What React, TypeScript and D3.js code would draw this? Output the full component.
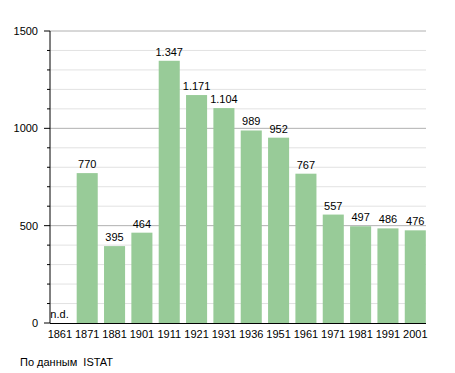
import React from 'react';
import * as d3 from 'd3';

const years = ['1861', '1871', '1881', '1901', '1911', '1921', '1931', '1936', '1951', '1961', '1971', '1981', '1991', '2001'];
const population: (number | null)[] = [null, 770, 395, 464, 1347, 1171, 1104, 989, 952, 767, 557, 497, 486, 476];
const majorTicks = [0, 500, 1000, 1500];
const minorTicks = d3.range(100, 1500, 100).filter(v => v % 500 !== 0);

const width = 455;
const height = 373;
const fontFamily = '"Liberation Sans", Arial, sans-serif';

const fmt = (v: number) => d3.format(',')(v).replace(/,/g, '.');

const App: React.FC = () => {
  const axisX = 50;
  const plotRight = 426;

  const x = d3.scaleBand<string>()
    .domain(years)
    .range([46.2, 46.2 + 14 * 27.34])
    .paddingInner(0.23)
    .paddingOuter(0.115);

  const y = d3.scaleLinear().domain([0, 1500]).range([323, 31]);

  return (
    <svg width={width} height={height} style={{ position: 'absolute', left: 0, top: 0, background: '#fff' }}>
      {/* grid */}
      {minorTicks.map(t => (
        <g key={'m' + t}>
          <line x1={axisX} x2={plotRight} y1={y(t)} y2={y(t)} stroke="#e2e2e2" strokeWidth={1} />
          <line x1={axisX - 3} x2={axisX} y1={y(t)} y2={y(t)} stroke="#000" strokeWidth={1} />
        </g>
      ))}
      {majorTicks.filter(t => t > 0).map(t => (
        <line key={'g' + t} x1={axisX} x2={plotRight} y1={y(t)} y2={y(t)} stroke="#b0b0b0" strokeWidth={1} />
      ))}
      {majorTicks.map(t => (
        <g key={'t' + t}>
          <line x1={axisX - 6} x2={axisX} y1={y(t)} y2={y(t)} stroke="#000" strokeWidth={1} />
          <text x={38} y={y(t)} dy="0.35em" textAnchor="end" fontSize={11} fontFamily={fontFamily} fill="#000">{t}</text>
        </g>
      ))}

      {/* bars */}
      {years.map((yr, i) => {
        const v = population[i];
        const bx = x(yr) || 0;
        if (v === null) {
          return (
            <text key={yr} x={bx + 1} y={y(0) - 5} fontSize={11} fontFamily={fontFamily} fill="#000">n.d.</text>
          );
        }
        return (
          <g key={yr}>
            <rect x={bx} y={y(v)} width={x.bandwidth()} height={y(0) - y(v)} fill="#98cb98" />
            <text x={bx + x.bandwidth() / 2} y={y(v) - 5} textAnchor="middle" fontSize={11} fontFamily={fontFamily} fill="#000">{fmt(v)}</text>
          </g>
        );
      })}

      {/* axes */}
      <line x1={axisX} x2={axisX} y1={y(1500)} y2={y(0)} stroke="#000" strokeWidth={1} />
      <line x1={axisX} x2={plotRight} y1={y(0) + 0.5} y2={y(0) + 0.5} stroke="#000" strokeWidth={1} />
      {years.map(yr => (
        <text key={'x' + yr} x={(x(yr) || 0) + x.bandwidth() / 2} y={338} textAnchor="middle" fontSize={11} fontFamily={fontFamily} fill="#000">{yr}</text>
      ))}

      <text x={20} y={366} fontSize={11} fontFamily={fontFamily} fill="#000" style={{ whiteSpace: 'pre' }}>По данным  ISTAT</text>
    </svg>
  );
};

export default App;
